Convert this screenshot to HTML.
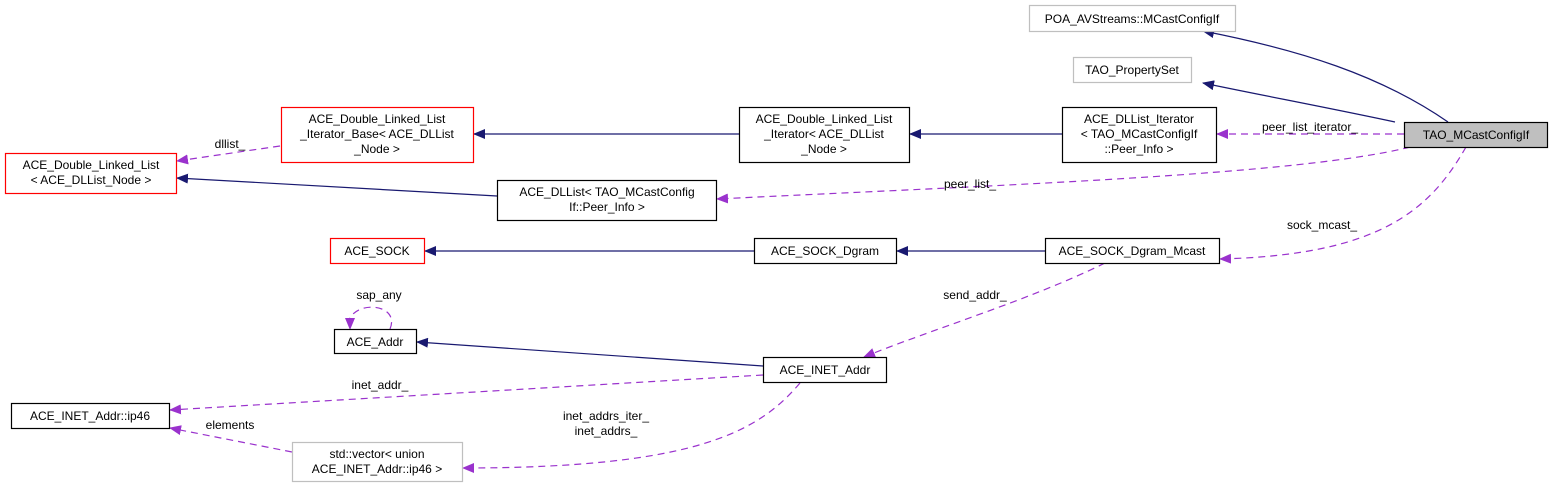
<!DOCTYPE html>
<html><head><meta charset="utf-8"><style>
body{margin:0;background:#fff;}
svg text{font-family:"Liberation Sans",sans-serif;font-size:12px;fill:#000;}
</style></head><body>
<svg width="1551" height="487" viewBox="0 0 1551 487" xmlns="http://www.w3.org/2000/svg">
<defs>
<marker id="nb" markerWidth="12" markerHeight="10" refX="11" refY="5" orient="auto" markerUnits="userSpaceOnUse"><path d="M0,0 L12,5 L0,10 z" fill="#191970"/></marker>
<marker id="pb" markerWidth="12" markerHeight="10" refX="11" refY="5" orient="auto" markerUnits="userSpaceOnUse"><path d="M0,0 L12,5 L0,10 z" fill="#9a32cd"/></marker>
</defs>
<g fill="none" stroke="#191970" stroke-width="1.2">
<path d="M1448,122 C1380,75 1300,50 1203,31" marker-end="url(#nb)"/>
<path d="M1395,122 C1330,108 1260,95 1203,83" marker-end="url(#nb)"/>
<path d="M739,134 L474,134" marker-end="url(#nb)"/>
<path d="M1062,134 L910,134" marker-end="url(#nb)"/>
<path d="M497,196 L177,178" marker-end="url(#nb)"/>
<path d="M754,251 L425,251" marker-end="url(#nb)"/>
<path d="M1045,251 L897,251" marker-end="url(#nb)"/>
<path d="M763,366 L417,342" marker-end="url(#nb)"/>
</g>
<g fill="none" stroke="#9a32cd" stroke-width="1.2" stroke-dasharray="7,5">
<path d="M1404,134 L1217,134" marker-end="url(#pb)"/>
<path d="M1410,147 C1300,175 1000,185 717,199" marker-end="url(#pb)"/>
<path d="M1466,147 C1430,210 1380,255 1220,259" marker-end="url(#pb)"/>
<path d="M280,146 L177,161" marker-end="url(#pb)"/>
<path d="M1105,263 C1030,300 930,330 864,357" marker-end="url(#pb)"/>
<path d="M390,329 C400,305 360,300 350,318 L350,329" marker-end="url(#pb)"/>
<path d="M763,375 L170,410" marker-end="url(#pb)"/>
<path d="M292,452 L170,428" marker-end="url(#pb)"/>
<path d="M800,383 C760,430 700,468 463,468" marker-end="url(#pb)"/>
</g>
<g stroke-width="1.2">
<rect x="1029.5" y="5.5" width="206" height="26" fill="#fff" stroke="#bfbfbf"/>
<rect x="1073.5" y="57.5" width="118" height="25" fill="#fff" stroke="#bfbfbf"/>
<rect x="1404.5" y="122.5" width="143" height="25" fill="#bfbfbf" stroke="#000"/>
<rect x="1062.5" y="107.5" width="154" height="55" fill="#fff" stroke="#000"/>
<rect x="739.5" y="107.5" width="170" height="55" fill="#fff" stroke="#000"/>
<rect x="281.5" y="107.5" width="192" height="55" fill="#fff" stroke="#ff0000"/>
<rect x="5.5" y="153.5" width="171" height="40" fill="#fff" stroke="#ff0000"/>
<rect x="497.5" y="180.5" width="219" height="40" fill="#fff" stroke="#000"/>
<rect x="330.5" y="238.5" width="94" height="25" fill="#fff" stroke="#ff0000"/>
<rect x="754.5" y="238.5" width="142" height="25" fill="#fff" stroke="#000"/>
<rect x="1045.5" y="238.5" width="174" height="25" fill="#fff" stroke="#000"/>
<rect x="334.5" y="329.5" width="82" height="24" fill="#fff" stroke="#000"/>
<rect x="763.5" y="357.5" width="123" height="25" fill="#fff" stroke="#000"/>
<rect x="11.5" y="403.5" width="158" height="25" fill="#fff" stroke="#000"/>
<rect x="292.5" y="442.5" width="170" height="39" fill="#fff" stroke="#bfbfbf"/>
</g>
<g text-anchor="middle">
<text x="1132" y="23">POA_AVStreams::MCastConfigIf</text>
<text x="1132" y="74">TAO_PropertySet</text>
<text x="1476" y="139">TAO_MCastConfigIf</text>
<text x="1139" y="123">ACE_DLList_Iterator</text>
<text x="1139" y="138">&lt; TAO_MCastConfigIf</text>
<text x="1139" y="153">::Peer_Info &gt;</text>
<text x="824" y="123">ACE_Double_Linked_List</text>
<text x="824" y="138">_Iterator&lt; ACE_DLList</text>
<text x="824" y="153">_Node &gt;</text>
<text x="377" y="123">ACE_Double_Linked_List</text>
<text x="377" y="138">_Iterator_Base&lt; ACE_DLList</text>
<text x="377" y="153">_Node &gt;</text>
<text x="91" y="169">ACE_Double_Linked_List</text>
<text x="91" y="184">&lt; ACE_DLList_Node &gt;</text>
<text x="607" y="196">ACE_DLList&lt; TAO_MCastConfig</text>
<text x="607" y="211">If::Peer_Info &gt;</text>
<text x="377" y="255">ACE_SOCK</text>
<text x="825" y="255">ACE_SOCK_Dgram</text>
<text x="1132" y="255">ACE_SOCK_Dgram_Mcast</text>
<text x="375" y="346">ACE_Addr</text>
<text x="825" y="374">ACE_INET_Addr</text>
<text x="90" y="420">ACE_INET_Addr::ip46</text>
<text x="377" y="458">std::vector&lt; union</text>
<text x="377" y="473">ACE_INET_Addr::ip46 &gt;</text>
<text x="1310" y="131">peer_list_iterator_</text>
<text x="970" y="188">peer_list_</text>
<text x="1322" y="229">sock_mcast_</text>
<text x="230" y="148">dllist_</text>
<text x="975" y="299">send_addr_</text>
<text x="379" y="299">sap_any</text>
<text x="380" y="389">inet_addr_</text>
<text x="230" y="429">elements</text>
<text x="606" y="420">inet_addrs_iter_</text>
<text x="606" y="435">inet_addrs_</text>
</g>
</svg>
</body></html>
